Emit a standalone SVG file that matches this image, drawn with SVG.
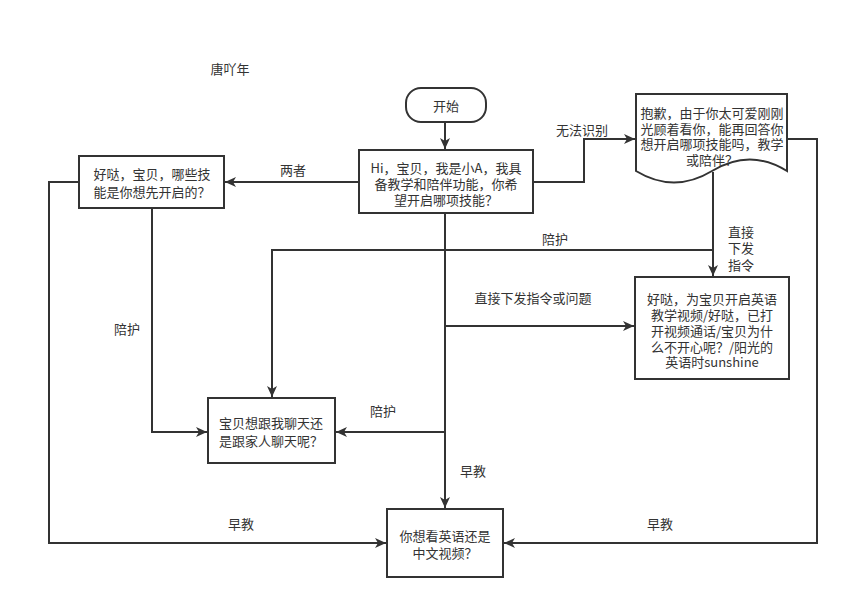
<svg xmlns="http://www.w3.org/2000/svg" width="850" height="609" viewBox="0 0 850 609">
<defs>
<marker id="arr" markerUnits="userSpaceOnUse" markerWidth="12" markerHeight="10" refX="11" refY="5" orient="auto">
<path d="M0,0 L11,5 L0,10 L3,5 z" fill="#333"/>
</marker>
<style>
.n{fill:#fff;stroke:#333;stroke-width:2}
.c{fill:none;stroke:#333;stroke-width:2}
.a{marker-end:url(#arr)}
text{font-family:"Noto Sans CJK SC","Liberation Sans",sans-serif;font-size:13px;fill:#333;text-anchor:middle;dominant-baseline:central}
</style>
</defs>
<rect width="850" height="609" fill="#fff"/>
<text x="230" y="68">唐吖年</text>
<g id="connectors">
<path class="c a" d="M445,122 V149"/>
<path class="c a" d="M359,182 H225"/>
<path class="c a" d="M533,182 H584 V139 H635"/>
<path class="c a" d="M713,172 V276"/>
<path class="c a" d="M713,250 H272 V397"/>
<path class="c a" d="M787,139 H817 V543 H504"/>
<path class="c a" d="M79,182 H49 V543 H386"/>
<path class="c a" d="M152,208 V432 H207"/>
<path class="c a" d="M445,213 V508"/>
<path class="c a" d="M445,326 H634"/>
<path class="c a" d="M445,432 H336"/>
</g>
<g id="labels">
<text x="582" y="129">无法识别</text>
<text x="293" y="169">两者</text>
<text x="555" y="238">陪护</text>
<text x="741" y="231">直接</text>
<text x="741" y="247">下发</text>
<text x="741" y="264">指令</text>
<text x="533" y="297">直接下发指令或问题</text>
<text x="127" y="328">陪护</text>
<text x="383" y="410">陪护</text>
<text x="473" y="470">早教</text>
<text x="241" y="523">早教</text>
<text x="660" y="523">早教</text>
</g>
<g id="start">
<rect class="n" x="406" y="88" width="80" height="34" rx="15"/>
<text x="446" y="105">开始</text>
</g>
<g id="greeting">
<rect class="n" x="359" y="150" width="174" height="63"/>
<text x="446" y="167">Hi，宝贝，我是小A，我具</text>
<text x="446" y="183">备教学和陪伴功能，你希</text>
<text x="446" y="199">望开启哪项技能？</text>
</g>
<g id="sorry">
<path class="n" d="M636,94 H787 V171 Q750,148 712,171 Q674,194 636,171 Z"/>
<text x="712" y="112">抱歉，由于你太可爱刚刚</text>
<text x="712" y="128">光顾着看你，能再回答你</text>
<text x="712" y="143">想开启哪项技能吗，教学</text>
<text x="712" y="159">或陪伴？</text>
</g>
<g id="both">
<rect class="n" x="79" y="156" width="145" height="52"/>
<text x="152" y="173">好哒，宝贝，哪些技</text>
<text x="152" y="191">能是你想先开启的？</text>
</g>
<g id="direct">
<rect class="n" x="635" y="277" width="154" height="102"/>
<text x="712" y="298">好哒，为宝贝开启英语</text>
<text x="712" y="314">教学视频/好哒，已打</text>
<text x="712" y="330">开视频通话/宝贝为什</text>
<text x="712" y="346">么不开心呢？/阳光的</text>
<text x="712" y="361">英语时sunshine</text>
</g>
<g id="company">
<rect class="n" x="208" y="398" width="127" height="65"/>
<text x="271" y="422">宝贝想跟我聊天还</text>
<text x="271" y="440">是跟家人聊天呢？</text>
</g>
<g id="early">
<rect class="n" x="387" y="509" width="116" height="68"/>
<text x="445" y="535">你想看英语还是</text>
<text x="445" y="552">中文视频？</text>
</g>
</svg>
